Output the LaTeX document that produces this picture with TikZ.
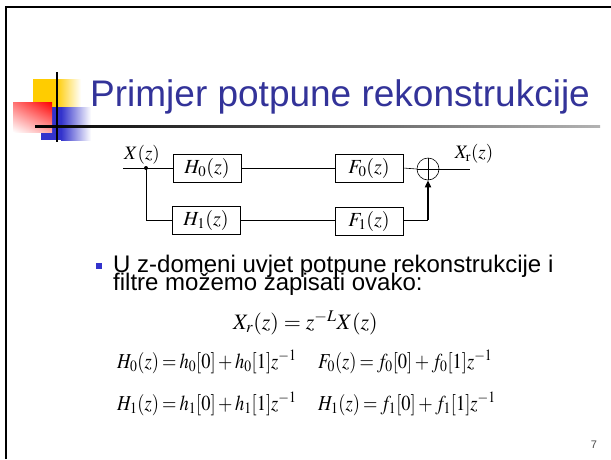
\documentclass[tikz,border=0pt]{standalone}
\usepackage{mathptmx}
\usepackage{graphicx}
\usepackage{fontspec}
\newfontfamily\slidefont{Liberation Sans}
\usetikzlibrary{arrows.meta,shadings}
\definecolor{titleblue}{RGB}{51,51,153}
\definecolor{bulletblue}{RGB}{51,51,204}
\definecolor{logoyellow}{RGB}{255,204,0}
\newcommand\eqsp{\thickmuskip=3mu\relax\medmuskip=2.5mu\relax}
\newcommand\tallmath[1]{\scalebox{1}[1.15]{$\eqsp #1$}}
\tikzset{
  blockbox/.style={draw, line width=0.6pt, minimum width=68pt, minimum height=28pt, inner sep=0pt, font=\fontsize{20}{23}\selectfont},
  sig/.style={line width=0.6pt},
  eqn/.style={anchor=base west, inner sep=0pt, font=\fontsize{18.5}{22}\selectfont},
  bodytext/.style={anchor=base west, inner sep=0pt, font=\slidefont\fontsize{24}{26}\selectfont},
  siglabel/.style={inner sep=0pt, font=\fontsize{19}{22}\selectfont},
}
\begin{document}
\begin{tikzpicture}[x=1pt,y=-1pt]
\useasboundingbox (0,0) rectangle (611,459);
% frame
\draw[line width=2.5pt] (6,459) -- (6,7) -- (611,7);
% logo
\fill[logoyellow] (33,79) rectangle (56,107);
\shade[left color=logoyellow, right color=white] (56,79) rectangle (81,107);
\fill[bulletblue] (41,107) rectangle (61,140);
\shade[left color=bulletblue, right color=white] (61,107) rectangle (91,140);
\shade[upper left=red!55!white, upper right=red, lower left=white, lower right=red!35!white] (13,102) rectangle (52,132);
\shade[left color=black, right color=black!30] (35,125.8) rectangle (600,127.8);
\draw[line width=2.5pt] (57,72) -- (57,142);
% title
\node[anchor=base west, inner sep=0pt, text=titleblue, font=\slidefont\fontsize{37}{42}\selectfont] (title) at (90,106) {Primjer potpune rekonstrukcije};
% block diagram
\node[blockbox] (H0) at (207,168) {$H_0(z)$};
\node[blockbox] (H1) at (206,220) {$H_1(z)$};
\node[blockbox] (F0) at (369,168) {$F_0(z)$};
\node[blockbox] (F1) at (369,221) {$F_1(z)$};
\node[draw, circle, line width=0.6pt, minimum size=22pt, inner sep=0pt] (sum) at (428,169) {};
\draw[line width=0.6pt] (sum.north) -- (sum.south) (sum.west) -- (sum.east);
\coordinate (in) at (123,168);
\coordinate (split) at (146,168);
\coordinate (out) at (470,169);
\coordinate (corner) at (428,220);
\fill (split) circle (2pt);
\draw[sig] (in) -- (H0.west);
\draw[sig] (split) |- (H1.west |- corner);
\draw[sig] (H0.east) -- (F0.west);
\draw[sig] (H1.east |- corner) -- (F1.west |- corner);
\draw[sig] (F0.east) -- (sum.west);
\draw[sig] (sum.east) -- (out);
\draw[sig] (F1.east |- corner) -- (corner);
\draw[line width=1.6pt, -{Triangle[length=7pt,width=6pt]}] (corner) -- (sum.south);
\node[siglabel] (xin) at (142,155) {$X(z)$};
\node[siglabel] (xout) at (474,154) {$X_{\mathrm{r}}(z)$};
% bullet text
\fill[bulletblue] (96,263) rectangle (102,269);
\node[bodytext] (l1) at (113,272) {U z-domeni uvjet potpune rekonstrukcije i};
\node[bodytext] (l2) at (113,290) {filtre možemo zapisati ovako:};
% equations
\node[anchor=base west, inner sep=0pt, font=\fontsize{22}{26}\selectfont] (e1) at (233,329) {$X_r\!\left(z\right)=z^{-L}X\!\left(z\right)$};
\node[eqn] (e2) at (117,368) {\tallmath{H_0\!\left(z\right)=h_0\!\left[0\right]+h_0\!\left[1\right]\!z^{-1}}};
\node[eqn] (e3) at (318,368) {\tallmath{F_0\!\left(z\right)=f_0\!\left[0\right]+f_0\!\left[1\right]\!z^{-1}}};
\node[eqn] (e4) at (117,410) {\tallmath{H_1\!\left(z\right)=h_1\!\left[0\right]+h_1\!\left[1\right]\!z^{-1}}};
\node[eqn] (e5) at (318,410) {\tallmath{H_1\!\left(z\right)=f_1\!\left[0\right]+f_1\!\left[1\right]\!z^{-1}}};
% page number
\node[anchor=base, inner sep=0pt, text=black!70, font=\slidefont\fontsize{11}{13}\selectfont] (pg) at (594,448) {7};
\end{tikzpicture}
\end{document}
